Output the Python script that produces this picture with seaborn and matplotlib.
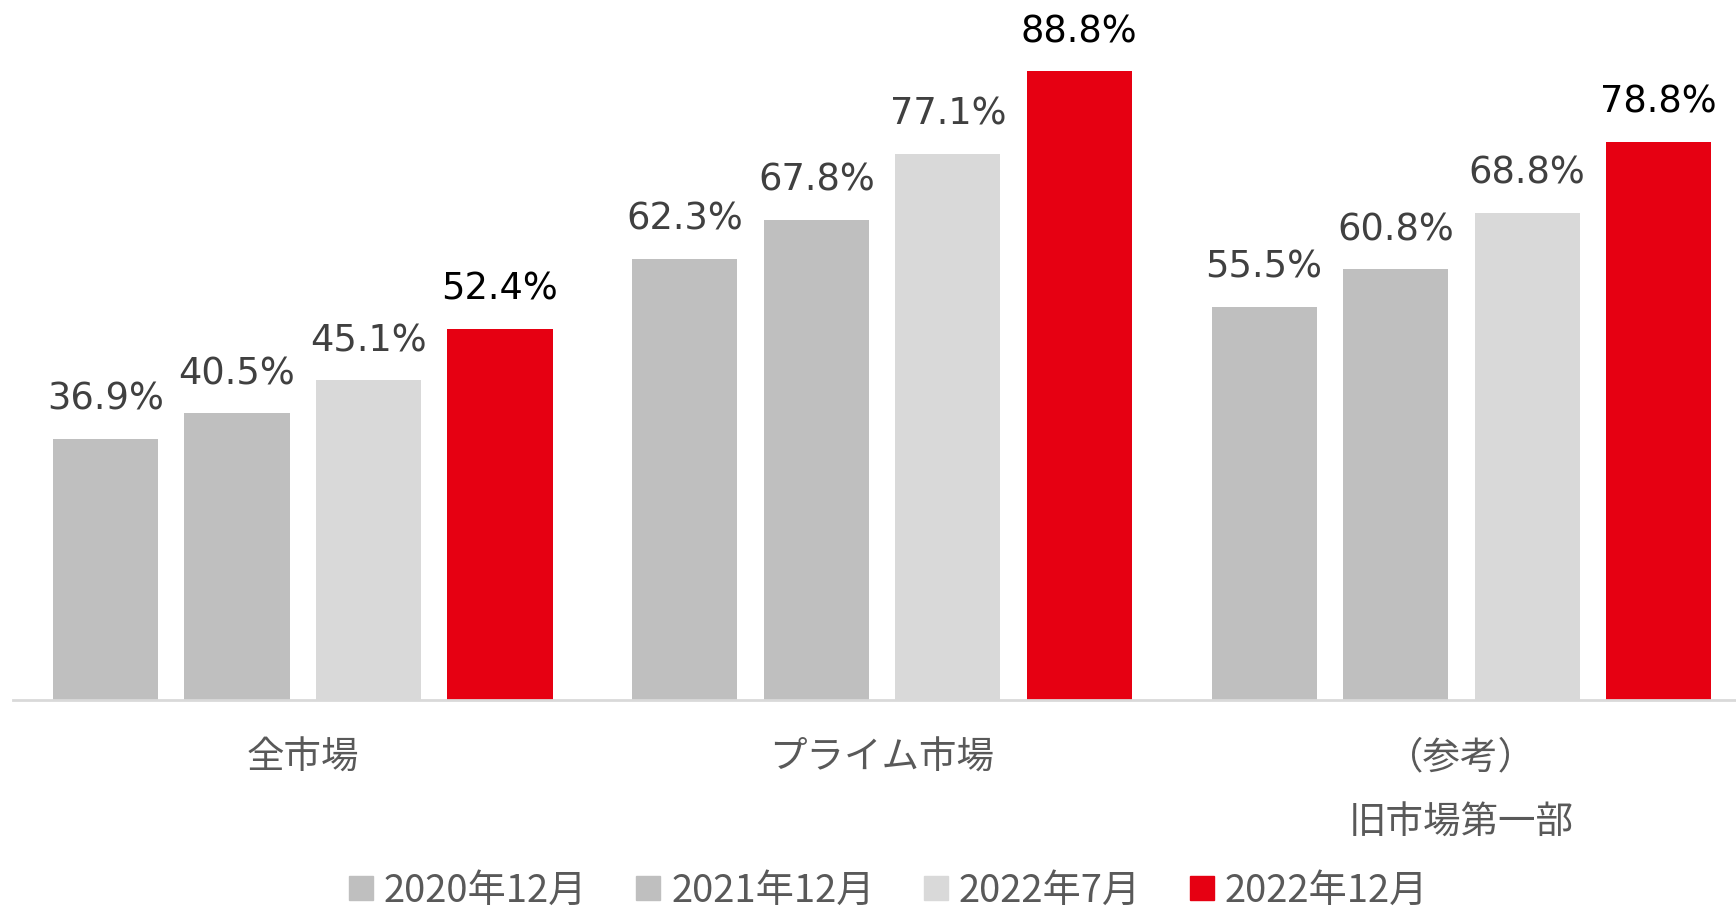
import matplotlib
matplotlib.use("Agg")
import matplotlib.pyplot as plt
from matplotlib.lines import Line2D
import pandas as pd
import seaborn as sb

markets = ["全市場", "プライム市場", "（参考）\n旧市場第一部"]
periods = ["2020年12月", "2021年12月", "2022年7月", "2022年12月"]
v_2020_12 = [36.9, 62.3, 55.5]
v_2021_12 = [40.5, 67.8, 60.8]
v_2022_07 = [45.1, 77.1, 68.8]
v_2022_12 = [52.4, 88.8, 78.8]

colors = ["#BFBFBF", "#BFBFBF", "#D9D9D9", "#E60012"]
label_colors = ["#404040", "#404040", "#404040", "#000000"]


def main():
    sb.set_style("white")
    plt.rcParams["font.family"] = ["Noto Sans CJK JP", "DejaVu Sans"]

    rows = []
    for period, values in zip(periods, [v_2020_12, v_2021_12, v_2022_07, v_2022_12]):
        for market, v in zip(markets, values):
            rows.append({"market": market, "period": period, "value": v})
    df = pd.DataFrame(rows)

    fig = plt.figure(figsize=(17.36, 9.13), dpi=100)
    ax = fig.add_axes([13 / 1736, 213 / 913, 1 - 13 / 1736, 700 / 913])

    sb.barplot(
        data=df, x="market", y="value", hue="period", hue_order=periods,
        palette=colors, width=0.908, gap=0.2, ax=ax, legend=False,
        saturation=1, linewidth=0,
    )

    for container, c in zip(ax.containers, label_colors):
        ax.bar_label(container, fmt="%.1f%%", padding=15, fontsize=26.5, color=c,
                     family="DejaVu Sans")

    ax.set(xlim=(-0.5, 2.474), ylim=(0, 98.8), xlabel="", ylabel="")
    ax.set_yticks([])
    for side in ["left", "right", "top"]:
        ax.spines[side].set_visible(False)
    ax.spines["bottom"].set_color("#D9D9D9")
    ax.spines["bottom"].set_linewidth(2)
    ax.tick_params(axis="x", length=0, pad=28, labelsize=27, labelcolor="#595959")
    for t in ax.get_xticklabels():
        t.set_linespacing(1.85)
        t.set_verticalalignment("top")

    handles = [Line2D([], [], marker="s", ls="", color=c, markersize=17) for c in colors]
    fig.legend(
        handles, periods, loc="center", bbox_to_anchor=(0.512, 1 - 891 / 913), ncol=4,
        frameon=False, fontsize=27.5, labelcolor="#595959", handlelength=0.6,
        handletextpad=0.3, columnspacing=1.3, borderpad=0,
    )

    fig.savefig("out.png", dpi=100)


if __name__ == "__main__":
    main()
